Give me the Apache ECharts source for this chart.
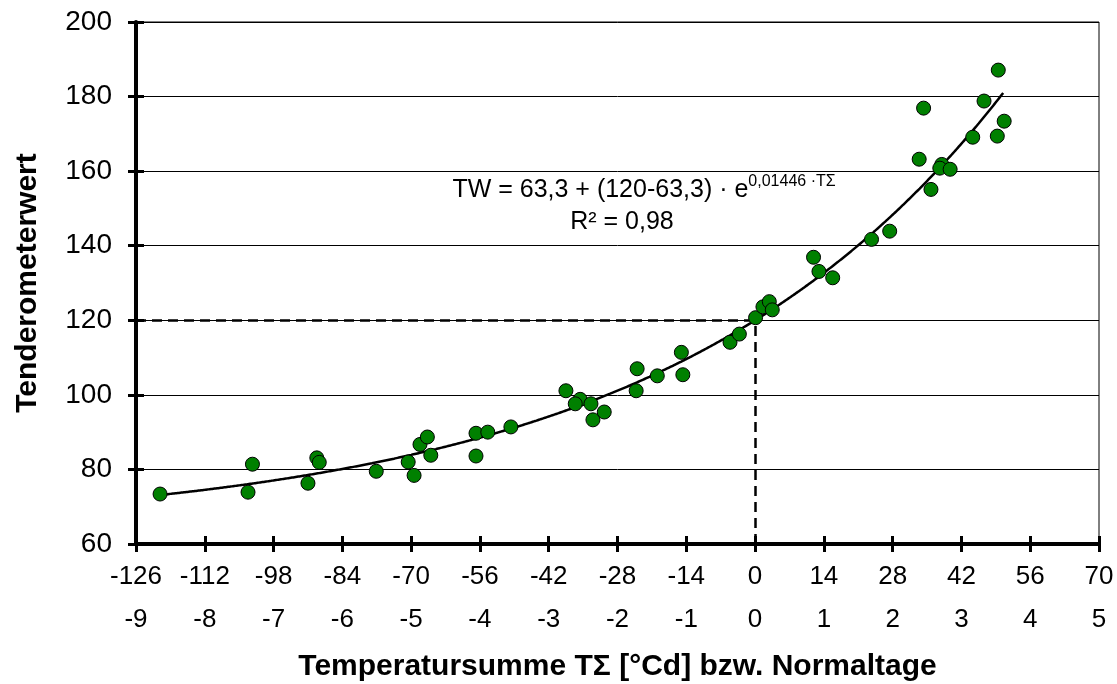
<!DOCTYPE html>
<html>
<head>
<meta charset="utf-8">
<script src="https://cdn.jsdelivr.net/npm/echarts@6/dist/echarts.min.js"></script>
<style>html,body{margin:0;padding:0;background:#fff}#c{width:1117px;height:684px}</style>
</head>
<body>
<div id="c"></div>
<script>
// Measured points: temperature sum TΣ [°Cd] and tenderometer value
const tempSum = [-121.1,-103.2,-102.3,-91.0,-89.2,-88.7,-77.1,-70.6,-69.4,-68.2,-66.7,-66.0,-56.8,-54.4,-56.8,-49.7,
  -38.5,-35.6,-36.6,-33.4,-33.0,-30.7,-24.0,-24.2,-19.9,-15.0,-14.7,-5.1,-3.2,0.1,1.6,2.9,3.5,
  11.9,13.0,15.8,23.7,27.4,33.4,34.3,35.8,38.0,37.6,39.7,44.3,46.6,49.3,50.7,49.5];
const tenderometer = [73.4,73.9,81.4,76.3,83.1,81.9,79.5,82.0,78.4,86.7,88.7,83.8,89.7,90.0,83.6,91.4,
  101.1,98.8,97.6,97.6,93.3,95.4,107.0,101.1,105.1,111.4,105.4,114.1,116.3,120.7,123.6,125.0,122.8,
  136.9,133.1,131.4,141.7,143.9,163.2,176.9,155.1,161.8,160.8,160.5,169.1,178.8,169.4,173.4,187.1];
// Fit shown in the chart: TW = a + (b - a) * exp(k * TΣ)
const fitA = 63.3, fitB = 120, fitK = 0.01446;
const fitRange = [-120, 50.8];
// Axis ticks
const xTicksTemp = [-126,-112,-98,-84,-70,-56,-42,-28,-14,0,14,28,42,56,70];
const xTicksDays = [-9,-8,-7,-6,-5,-4,-3,-2,-1,0,1,2,3,4,5];
const yTicks = [60,80,100,120,140,160,180,200];
const refX = 0, refY = 120;

const points = tempSum.map((t, i) => [t, tenderometer[i]]);
const fitLine = [];
for (let t = fitRange[0]; t <= fitRange[1] + 1e-9; t += 0.5) {
  fitLine.push([t, fitA + (fitB - fitA) * Math.exp(fitK * t)]);
}

const FONT = 'Liberation Sans, Arial, sans-serif';
const chart = echarts.init(document.getElementById('c'), null, {renderer: 'canvas'});
const xMin = xTicksTemp[0], xMax = xTicksTemp[xTicksTemp.length - 1];
const yMin = yTicks[0], yMax = yTicks[yTicks.length - 1];
chart.setOption({
  animation: false,
  backgroundColor: '#fff',
  grid: {left: 136, right: 18, top: 22, bottom: 140, show: true, borderColor: '#000', borderWidth: 1,
    backgroundColor: 'transparent', containLabel: false, outerBoundsMode: 'none'},
  xAxis: [
    {type: 'value', min: xMin, max: xMax, interval: 14, position: 'bottom',
      axisLine: {show: true, onZero: false, lineStyle: {color: '#000', width: 4}},
      axisTick: {show: true, inside: false, length: 8, lineStyle: {color: '#000', width: 3}},
      axisLabel: {color: '#000', fontSize: 26, fontFamily: FONT, margin: 20},
      splitLine: {show: false},
      name: 'Temperatursumme TΣ [°Cd] bzw. Normaltage', nameLocation: 'middle', nameGap: 108,
      nameTextStyle: {color: '#000', fontSize: 30, fontWeight: 'bold', fontFamily: FONT}},
    {type: 'value', min: xMin, max: xMax, interval: 14, position: 'bottom',
      axisLine: {show: false, onZero: false},
      axisTick: {show: true, inside: true, length: 8, lineStyle: {color: '#000', width: 3}},
      axisLabel: {show: false}, splitLine: {show: false}},
    {type: 'value', min: xTicksDays[0], max: xTicksDays[xTicksDays.length - 1], interval: 1, position: 'bottom', offset: 43,
      axisLine: {show: false, onZero: false}, axisTick: {show: false},
      axisLabel: {color: '#000', fontSize: 26, fontFamily: FONT, margin: 20},
      splitLine: {show: false}}
  ],
  yAxis: [
    {type: 'value', min: yMin, max: yMax, interval: 20, position: 'left',
      axisLine: {show: true, onZero: false, lineStyle: {color: '#000', width: 4}},
      axisTick: {show: true, inside: false, length: 8, lineStyle: {color: '#000', width: 3}},
      axisLabel: {color: '#000', fontSize: 28, fontFamily: FONT, margin: 24},
      splitLine: {show: true, lineStyle: {color: '#000', width: 1}},
      name: 'Tenderometerwert', nameLocation: 'middle', nameGap: 93, nameRotate: 90,
      nameTextStyle: {color: '#000', fontSize: 30, fontWeight: 'bold', fontFamily: FONT}},
    {type: 'value', min: yMin, max: yMax, interval: 20, position: 'left',
      axisLine: {show: false, onZero: false},
      axisTick: {show: true, inside: true, length: 8, lineStyle: {color: '#000', width: 3}},
      axisLabel: {show: false}, splitLine: {show: false}}
  ],
  series: [
    {type: 'line', data: fitLine, xAxisIndex: 0, yAxisIndex: 0, showSymbol: false, smooth: true,
      lineStyle: {color: '#000', width: 2.5}, z: 3,
      markLine: {silent: true, symbol: 'none', label: {show: false},
        lineStyle: {color: '#000', width: 2.5, type: [10, 6]},
        data: [
          [{coord: [xMin, refY]}, {coord: [refX, refY]}],
          [{coord: [refX, yMin]}, {coord: [refX, refY]}]
        ]}},
    {type: 'scatter', data: points, xAxisIndex: 0, yAxisIndex: 0, symbol: 'circle', symbolSize: 14,
      itemStyle: {color: '#008000', borderColor: '#000', borderWidth: 1, opacity: 1}, z: 5}
  ],
  graphic: [
    {type: 'text', x: 644, y: 174, z: 10,
      style: {text: '{m|TW = 63,3 + (120-63,3) · e}{s|0,01446 ·TΣ}', fill: '#000', align: 'center',
        rich: {m: {fontSize: 25, fontFamily: FONT, fill: '#000', verticalAlign: 'bottom', lineHeight: 29},
               s: {fontSize: 16, fontFamily: FONT, fill: '#000', verticalAlign: 'top', lineHeight: 29}}}},
    {type: 'text', x: 622, y: 210, z: 10,
      style: {text: 'R² = 0,98', fill: '#000', fontSize: 25, fontFamily: FONT, align: 'center'}}
  ]
});
</script>
</body>
</html>
